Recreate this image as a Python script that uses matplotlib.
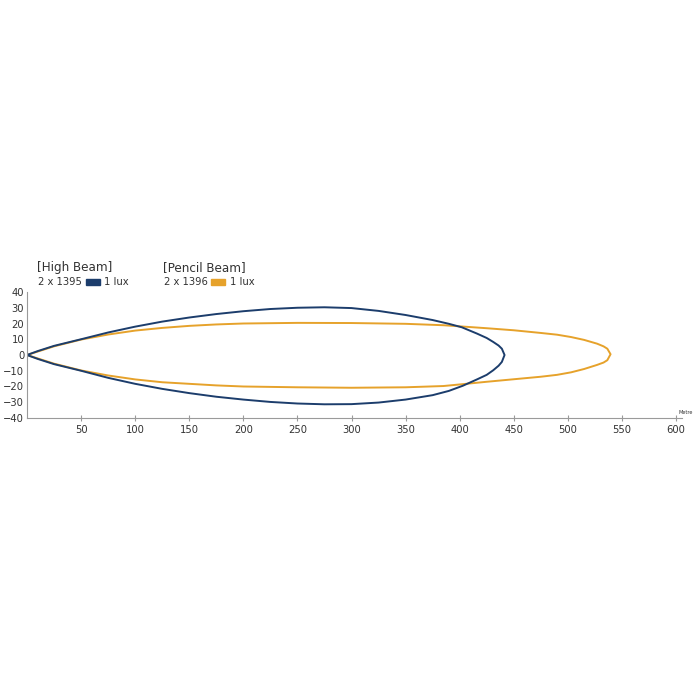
import numpy as np
import matplotlib.pyplot as plt

plt.rcParams['font.family'] = ['DejaVu Sans']
plt.rcParams['font.stretch'] = 'condensed'

# beam outlines (metres, metres)
high_up_x = [0, 10, 25, 50, 75, 100, 125, 150, 175, 200, 225, 250, 275, 300,
             325, 350, 375, 390, 402, 416, 425, 431, 436, 439, 441.5]
high_up_y = [0, 2.5, 5.8, 10, 14.3, 18, 21.2, 23.8, 26, 27.8, 29.2, 30, 30.3,
             29.8, 28, 25.4, 22.2, 19.8, 17.6, 13.6, 10.8, 8.3, 6, 4, 0]
high_lo_x = [0, 10, 25, 50, 75, 100, 125, 150, 175, 200, 225, 250, 275, 300,
             325, 350, 375, 390, 403, 416, 425, 431, 436, 439, 441.5]
high_lo_y = [0, -2.5, -5.8, -10, -14.5, -18.3, -21.5, -24.2, -26.5, -28.3,
             -29.8, -30.8, -31.3, -31.2, -30.2, -28.3, -25.5, -22.8, -19.5,
             -15.5, -12.6, -9.7, -6.8, -4.4, 0]

pencil_up_x = [0, 25, 50, 75, 100, 125, 150, 175, 200, 250, 300, 350, 385,
               400, 425, 450, 475, 490, 503, 515, 527, 533, 536.5, 539.5]
pencil_up_y = [0, 5.5, 9.8, 13, 15.5, 17.2, 18.5, 19.4, 20, 20.4, 20.3, 19.8,
               18.9, 18.2, 17, 15.7, 14, 12.9, 11.4, 9.6, 7.2, 5.5, 4, 0.5]
pencil_lo_x = [0, 25, 50, 75, 100, 125, 150, 175, 200, 250, 300, 350, 385,
               403, 425, 450, 475, 490, 503, 515, 527, 533, 536.5, 539.5]
pencil_lo_y = [0, -5.5, -9.8, -13, -15.5, -17.3, -18.3, -19.3, -20, -20.5,
               -20.8, -20.5, -19.7, -18.5, -17, -15.4, -13.8, -12.6, -11,
               -8.9, -6.3, -4.8, -3.3, 0.5]

x_ticks = [50, 100, 150, 200, 250, 300, 350, 400, 450, 500, 550, 600]
y_ticks = [40, 30, 20, 10, 0, -10, -20, -30, -40]

blue = '#1c3d6c'
orange = '#e6a22b'
txt = '#333333'
grey = '#9a9a9a'


def outline(ux, uy, lx, ly):
    xs = np.concatenate([ux, lx[::-1]])
    ys = np.concatenate([uy, ly[::-1]])
    return xs, ys


fig = plt.figure(figsize=(7, 7), dpi=100)
ax = fig.add_axes([27 / 700, (700 - 418) / 700, 649 / 700, 126 / 700])

px, py = outline(pencil_up_x, pencil_up_y, pencil_lo_x, pencil_lo_y)
bx, by = outline(high_up_x, high_up_y, high_lo_x, high_lo_y)
ax.plot(px, py, color=orange, lw=1.4, solid_joinstyle='round')
ax.plot(bx, by, color=blue, lw=1.4, solid_joinstyle='round')

ax.set_xlim(0, 600)
ax.set_ylim(-40, 40)
ax.set_xticks(x_ticks)
ax.set_yticks(y_ticks)
ax.tick_params(axis='x', direction='inout', length=4, color=grey,
               labelsize=8, labelcolor=txt, pad=3)
ax.tick_params(axis='y', length=0, labelsize=8, labelcolor=txt, pad=2)

for s in ['top', 'right']:
    ax.spines[s].set_visible(False)
ax.spines['left'].set_color(grey)
ax.spines['bottom'].set_color(grey)
ax.spines['bottom'].set_bounds(0, 606)
ax.spines['bottom'].set_clip_on(False)

fig.text(686 / 700, 1 - 415 / 700, 'Metre', fontsize=4, color=txt,
         ha='center', va='bottom')

# legend block
fs_head = 9.5
fs = 8
fig.text(37 / 700, 1 - 268 / 700, '[High Beam]', fontsize=fs_head, color=txt,
         va='center')
fig.text(38 / 700, 1 - 282 / 700, '2 x 1395', fontsize=fs, color=txt,
         va='center')
fig.patches.append(plt.Rectangle((86 / 700, 1 - 285 / 700), 14 / 700, 6 / 700,
                                 transform=fig.transFigure, color=blue))
fig.text(104 / 700, 1 - 282 / 700, '1 lux', fontsize=fs, color=txt,
         va='center')

fig.text(163 / 700, 1 - 268 / 700, '[Pencil Beam]', fontsize=fs_head, color=txt,
         va='center')
fig.text(164 / 700, 1 - 282 / 700, '2 x 1396', fontsize=fs, color=txt,
         va='center')
fig.patches.append(plt.Rectangle((211 / 700, 1 - 285 / 700), 14 / 700, 6 / 700,
                                 transform=fig.transFigure, color=orange))
fig.text(230 / 700, 1 - 282 / 700, '1 lux', fontsize=fs, color=txt,
         va='center')

fig.savefig('out.png', dpi=100)
